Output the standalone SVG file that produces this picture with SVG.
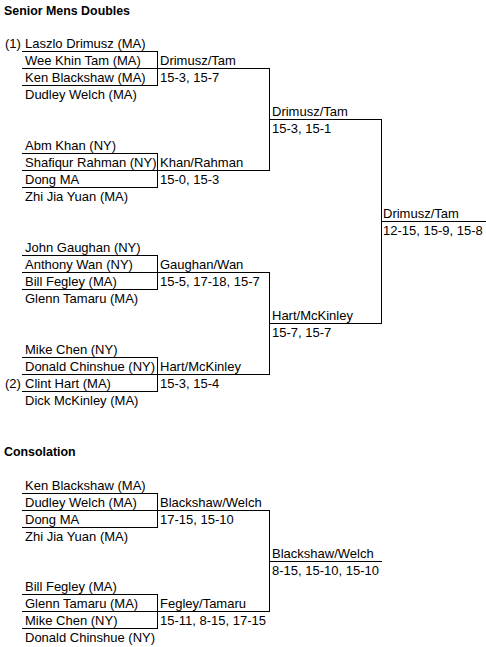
<svg xmlns="http://www.w3.org/2000/svg" width="486" height="647" viewBox="0 0 486 647">
<style>
text{font-family:"Liberation Sans",Arial,sans-serif;font-size:13px;fill:#000}
.t{font-weight:bold;font-size:12.4px}
line{stroke:#000;stroke-width:1;shape-rendering:crispEdges}
</style>
<rect width="486" height="647" fill="#fff"/>
<text class="t" x="4" y="15">Senior Mens Doubles</text>
<text class="t" x="4" y="456">Consolation</text>

<g id="groupA">
<text x="5" y="48">(1)</text>
<text x="25" y="48">Laszlo Drimusz (MA)</text>
<text x="25" y="65">Wee Khin Tam (MA)</text>
<text x="25" y="82">Ken Blackshaw (MA)</text>
<text x="25" y="99">Dudley Welch (MA)</text>
</g>
<g id="groupB">
<text x="25" y="150">Abm Khan (NY)</text>
<text x="25" y="167">Shafiqur Rahman (NY)</text>
<text x="25" y="184">Dong MA</text>
<text x="25" y="201">Zhi Jia Yuan (MA)</text>
</g>
<g id="groupC">
<text x="25" y="252">John Gaughan (NY)</text>
<text x="25" y="269">Anthony Wan (NY)</text>
<text x="25" y="286">Bill Fegley (MA)</text>
<text x="25" y="303">Glenn Tamaru (MA)</text>
</g>
<g id="groupD">
<text x="25" y="354">Mike Chen (NY)</text>
<text x="25" y="371">Donald Chinshue (NY)</text>
<text x="5" y="388">(2)</text>
<text x="25" y="388">Clint Hart (MA)</text>
<text x="25" y="405">Dick McKinley (MA)</text>
</g>
<g id="r1a"><text x="160" y="65">Drimusz/Tam</text><text x="160" y="82">15-3, 15-7</text></g>
<g id="r1b"><text x="160" y="167">Khan/Rahman</text><text x="160" y="184">15-0, 15-3</text></g>
<g id="r1c"><text x="160" y="269">Gaughan/Wan</text><text x="160" y="286">15-5, 17-18, 15-7</text></g>
<g id="r1d"><text x="160" y="371">Hart/McKinley</text><text x="160" y="388">15-3, 15-4</text></g>
<g id="r2a"><text x="272" y="116">Drimusz/Tam</text><text x="272" y="133">15-3, 15-1</text></g>
<g id="r2b"><text x="272" y="320">Hart/McKinley</text><text x="272" y="337">15-7, 15-7</text></g>
<g id="final"><text x="383" y="218">Drimusz/Tam</text><text x="383" y="235">12-15, 15-9, 15-8</text></g>

<g id="groupE">
<text x="25" y="490">Ken Blackshaw (MA)</text>
<text x="25" y="507">Dudley Welch (MA)</text>
<text x="25" y="524">Dong MA</text>
<text x="25" y="541">Zhi Jia Yuan (MA)</text>
</g>
<g id="groupF">
<text x="25" y="591">Bill Fegley (MA)</text>
<text x="25" y="608">Glenn Tamaru (MA)</text>
<text x="25" y="625">Mike Chen (NY)</text>
<text x="25" y="642">Donald Chinshue (NY)</text>
</g>
<g id="c1a"><text x="160" y="507">Blackshaw/Welch</text><text x="160" y="524">17-15, 15-10</text></g>
<g id="c1b"><text x="160" y="608">Fegley/Tamaru</text><text x="160" y="625">15-11, 8-15, 17-15</text></g>
<g id="cfinal"><text x="272" y="558">Blackshaw/Welch</text><text x="272" y="575">8-15, 15-10, 15-10</text></g>

<g id="connectors">
<line x1="22" y1="51.5" x2="158" y2="51.5"/>
<line x1="22" y1="68.5" x2="270" y2="68.5"/>
<line x1="22" y1="85.5" x2="158" y2="85.5"/>
<line x1="157.5" y1="51" x2="157.5" y2="86"/>
<line x1="22" y1="153.5" x2="158" y2="153.5"/>
<line x1="22" y1="170.5" x2="270" y2="170.5"/>
<line x1="22" y1="187.5" x2="158" y2="187.5"/>
<line x1="157.5" y1="153" x2="157.5" y2="188"/>
<line x1="22" y1="255.5" x2="158" y2="255.5"/>
<line x1="22" y1="272.5" x2="270" y2="272.5"/>
<line x1="22" y1="289.5" x2="158" y2="289.5"/>
<line x1="157.5" y1="255" x2="157.5" y2="290"/>
<line x1="22" y1="357.5" x2="158" y2="357.5"/>
<line x1="22" y1="374.5" x2="270" y2="374.5"/>
<line x1="22" y1="391.5" x2="158" y2="391.5"/>
<line x1="157.5" y1="357" x2="157.5" y2="392"/>
<line x1="269.5" y1="68" x2="269.5" y2="171"/>
<line x1="269.5" y1="272" x2="269.5" y2="375"/>
<line x1="269" y1="119.5" x2="382" y2="119.5"/>
<line x1="269" y1="323.5" x2="382" y2="323.5"/>
<line x1="381.5" y1="119" x2="381.5" y2="324"/>
<line x1="381" y1="221.5" x2="486" y2="221.5"/>

<line x1="22" y1="493.5" x2="158" y2="493.5"/>
<line x1="22" y1="510.5" x2="270" y2="510.5"/>
<line x1="22" y1="527.5" x2="158" y2="527.5"/>
<line x1="157.5" y1="493" x2="157.5" y2="528"/>
<line x1="22" y1="594.5" x2="158" y2="594.5"/>
<line x1="22" y1="611.5" x2="270" y2="611.5"/>
<line x1="22" y1="628.5" x2="158" y2="628.5"/>
<line x1="157.5" y1="594" x2="157.5" y2="629"/>
<line x1="269.5" y1="510" x2="269.5" y2="612"/>
<line x1="269" y1="561.5" x2="382" y2="561.5"/>
</g>
</svg>
